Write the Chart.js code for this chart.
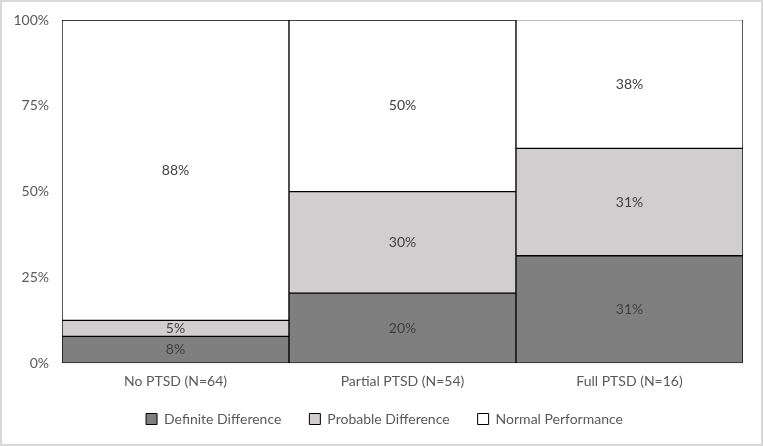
<!DOCTYPE html>
<html lang="en">
<head>
  <meta charset="UTF-8">
  <title>PTSD performance</title>
  <script src="https://cdn.jsdelivr.net/npm/chart.js"></script>
  <style>
    html, body { margin: 0; padding: 0; background: #fff; }
    .wrap {
      width: 763px;
      height: 446px;
      box-sizing: border-box;
      border: 2px solid #d9d9d9;
      background: #fff;
    }
  </style>
</head>
<body>
  <div class="wrap">
    <canvas id="chart" width="759" height="442"></canvas>
  </div>

  <script>
    const categories = ['No PTSD (N=64)', 'Partial PTSD (N=54)', 'Full PTSD (N=16)'];
    const definite = [7.8, 20.4, 31.3];
    const probable = [4.7, 29.6, 31.3];
    const normal = [87.5, 50.0, 37.5];
    const yTicks = [0, 25, 50, 75, 100];

    const font = "Lato, 'Open Sans', sans-serif";

    // labels in the middle of every segment
    const segmentLabels = {
      id: 'segmentLabels',
      afterDatasetsDraw(chart) {
        const ctx = chart.ctx;
        ctx.save();
        ctx.font = '14px ' + font;
        ctx.fillStyle = '#404040';
        ctx.textAlign = 'center';
        ctx.textBaseline = 'middle';
        chart.data.datasets.forEach((ds, i) => {
          chart.getDatasetMeta(i).data.forEach((bar, j) => {
            const p = bar.getProps(['x', 'y', 'base'], true);
            ctx.fillText(Math.round(ds.data[j]) + '%', p.x, (p.y + p.base) / 2);
          });
        });
        ctx.restore();
      }
    };

    // legend keeps its wide horizontal gaps but sits closer to the axis
    const shiftUp = 16;
    const shiftRight = 12;
    const tightLegend = {
      id: 'tightLegend',
      afterInit(chart) {
        const lg = chart.legend;
        const fit = lg.fit;
        const draw = lg.draw;
        lg.fit = function () {
          fit.call(this);
          this.height -= shiftUp;
        };
        lg.draw = function () {
          const { top, left, right } = this;
          this.top -= shiftUp;
          this.left += shiftRight;
          this.right += shiftRight;
          draw.call(this);
          Object.assign(this, { top, left, right });
        };
      }
    };

    new Chart(document.getElementById('chart'), {
      type: 'bar',
      data: {
        labels: categories,
        datasets: [
          { label: 'Definite Difference', data: definite, backgroundColor: '#7f7f7f' },
          { label: 'Probable Difference', data: probable, backgroundColor: '#d0cece' },
          { label: 'Normal Performance', data: normal, backgroundColor: '#ffffff' }
        ].map(d => ({ ...d, borderColor: '#000', borderWidth: 1, borderSkipped: false,
                      categoryPercentage: 1, barPercentage: 1 }))
      },
      options: {
        responsive: false,
        animation: false,
        layout: { padding: { left: 0, right: 18, top: 18, bottom: 8 } },
        plugins: {
          tooltip: { enabled: false },
          legend: {
            position: 'bottom',
            labels: {
              color: '#595959',
              font: { size: 14, family: font },
              boxWidth: 11,
              boxHeight: 11,
              padding: 28,
              useBorderRadius: false
            }
          }
        },
        scales: {
          x: {
            stacked: true,
            grid: { display: false, drawTicks: false },
            border: { display: false },
            ticks: { color: '#595959', font: { size: 14, family: font }, padding: 10 }
          },
          y: {
            stacked: true,
            min: 0,
            max: 100,
            afterFit: s => { s.width = 60; s.paddingTop = 0; },
            afterBuildTicks: s => { s.ticks = yTicks.map(v => ({ value: v })); },
            grid: { display: false, drawTicks: false },
            border: { display: false },
            ticks: { color: '#595959', font: { size: 14, family: font }, padding: 13,
                     callback: v => v + '%' }
          }
        }
      },
      plugins: [segmentLabels, tightLegend]
    });
  </script>
</body>
</html>
